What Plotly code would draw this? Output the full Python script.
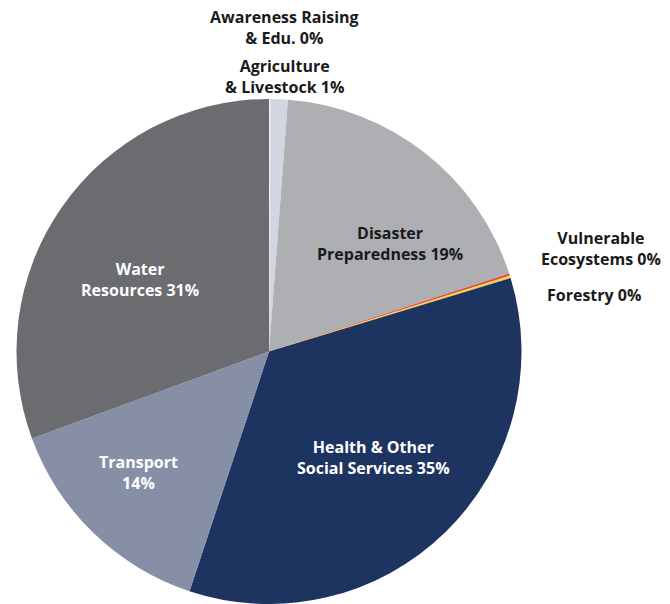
import plotly.graph_objects as go

# Sector shares of adaptation finance (percent), clockwise from 12 o'clock
sectors = [
    "Awareness Raising<br>& Edu.",
    "Agriculture<br>& Livestock",
    "Disaster<br>Preparedness",
    "Vulnerable<br>Ecosystems",
    "Forestry",
    "Health & Other<br>Social Services",
    "Transport",
    "Water<br>Resources",
]
shares = [0.1, 1.1, 18.8, 0.15, 0.15, 34.8, 14.3, 30.6]
colors = ["#eeeef3", "#d3d5e0", "#adafb2", "#e8474a", "#f4d43f",
          "#1d3461", "#868fa6", "#6b6c70"]

# label placement (paper coords) and font colour for each sector
label_pos = [
    (0.424, 0.955), (0.424, 0.873), (0.582, 0.597), (0.897, 0.588),
    (0.887, 0.511), (0.558, 0.242), (0.206, 0.217), (0.209, 0.538),
]
label_color = ["#1a1a1a", "#1a1a1a", "#1a1a1a", "#1a1a1a",
               "#1a1a1a", "#ffffff", "#ffffff", "#ffffff"]


def label_text(name, v):
    pct = f"{round(v)}%"
    if name == "Transport":
        return f"{name}<br>{pct}"
    return f"{name} {pct}"


fig = go.Figure(
    go.Pie(
        labels=sectors,
        values=shares,
        sort=False,
        direction="clockwise",
        rotation=0,
        marker=dict(colors=colors, line=dict(width=0)),
        textinfo="none",
        hoverinfo="label+percent",
        domain=dict(x=[16 / 670, 522 / 670], y=[0, 505 / 604]),
        showlegend=False,
    )
)

for name, v, (x, y), c in zip(sectors, shares, label_pos, label_color):
    fig.add_annotation(
        x=x, y=y, xref="paper", yref="paper",
        text=label_text(name, v),
        showarrow=False,
        font=dict(family="Open Sans", size=16, color=c, weight="bold"),
        align="center",
        xanchor="center", yanchor="middle",
    )

fig.update_layout(
    width=670, height=604,
    margin=dict(l=0, r=0, t=0, b=0),
    paper_bgcolor="white",
    plot_bgcolor="white",
)

fig.write_html("out.html")
